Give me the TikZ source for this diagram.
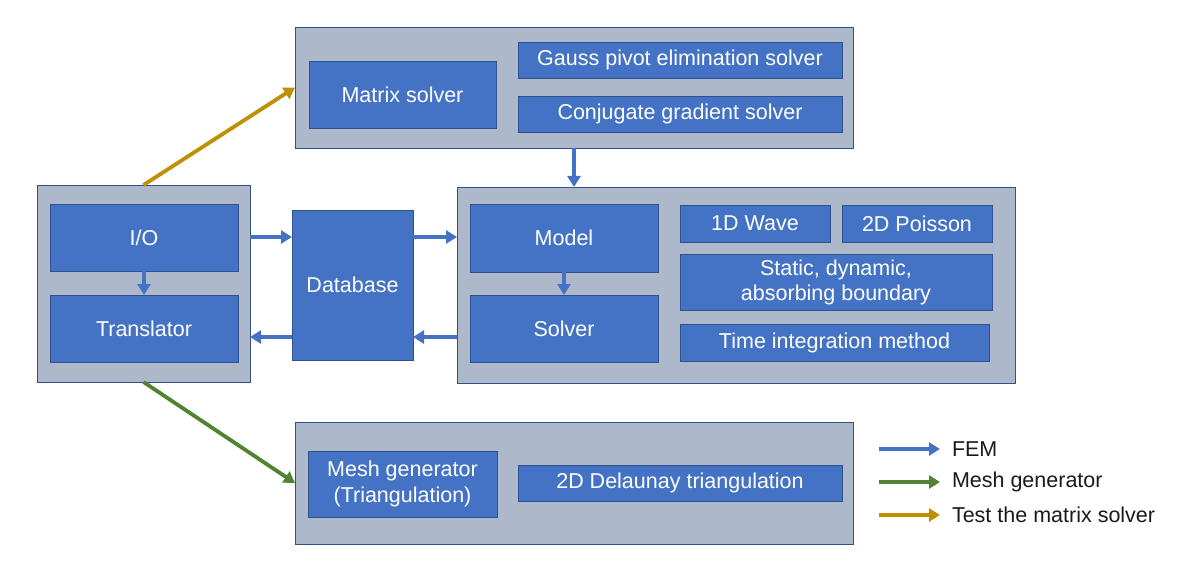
\documentclass[tikz,border=0pt]{standalone}
\usepackage{fontspec}
\setmainfont{Liberation Sans}
\usetikzlibrary{arrows.meta,calc}
\definecolor{boxblue}{HTML}{4472C4}
\definecolor{boxedge}{HTML}{2F528F}
\definecolor{contgrey}{HTML}{ADB9CA}
\definecolor{arrblue}{HTML}{4472C4}
\definecolor{arrgreen}{HTML}{548235}
\definecolor{arrgold}{HTML}{BF9000}
\definecolor{legtext}{HTML}{1A1A1A}
\begin{document}
\begin{tikzpicture}[x=1pt,y=-1pt,
  every node/.style={inner sep=0pt,outer sep=0pt,font=\fontsize{21.5}{25}\selectfont},
  cont/.style={draw=boxedge,line width=0.9pt,fill=contgrey},
  bx/.style={draw=boxedge,line width=0.9pt,fill=boxblue,text=white,align=center},
  arr/.style={line width=3.8pt,-{Triangle[length=11pt,width=13pt]}},
  legtxt/.style={anchor=west,text=legtext}]
\useasboundingbox (0,0) rectangle (1191,572);
% containers
\node[cont,minimum width=558pt,minimum height=121pt] (top) at (574,87.5) {};
\node[cont,minimum width=213pt,minimum height=197pt] (left) at (143.5,283.5) {};
\node[cont,minimum width=558pt,minimum height=196pt] (right) at (736,285) {};
\node[cont,minimum width=558pt,minimum height=122pt] (bottom) at (574,483) {};
% top boxes
\node[bx,minimum width=187pt,minimum height=67pt] (matrix) at (402.5,94.5) {Matrix solver};
\node[bx,minimum width=324pt,minimum height=36pt] (gauss) at (680,60) {Gauss pivot elimination solver};
\node[bx,minimum width=324pt,minimum height=36pt] (conj) at (680,114) {Conjugate gradient solver};
% left boxes
\node[bx,minimum width=188pt,minimum height=67pt] (io) at (144,237.5) {I/O};
\node[bx,minimum width=188pt,minimum height=67pt] (trans) at (144,328.5) {Translator};
% database
\node[bx,minimum width=121pt,minimum height=150pt] (db) at (352.5,285) {Database};
% right boxes
\node[bx,minimum width=188pt,minimum height=68pt] (model) at (564,238) {Model};
\node[bx,minimum width=188pt,minimum height=67pt] (solver) at (564,328.5) {Solver};
\node[bx,minimum width=150pt,minimum height=37pt] (wave) at (755,223.5) {1D Wave};
\node[bx,minimum width=150pt,minimum height=37pt] (poisson) at (917,223.5) {2D Poisson};
\node[bx,minimum width=312pt,minimum height=56pt] (static) at (836,282) {Static, dynamic,\\absorbing boundary};
\node[bx,minimum width=309pt,minimum height=37pt] (time) at (834.5,342.5) {Time integration method};
% bottom boxes
\node[bx,minimum width=189pt,minimum height=66pt,font=\fontsize{21.5}{26}\selectfont] (mesh) at (402.5,484) {Mesh generator\\(Triangulation)};
\node[bx,minimum width=324pt,minimum height=36pt] (delaunay) at (680,483) {2D Delaunay triangulation};
% helper levels
\coordinate (upper) at (0,237);
\coordinate (lower) at (0,337);
% connectors
\draw[arr,arrgold] (left.north) -- (top.west);
\draw[arr,arrgreen] (left.south) -- (bottom.west);
\draw[arr,arrblue] (top.south) -- (top.south |- right.north);
\draw[arr,arrblue] (io.south) -- (trans.north);
\draw[arr,arrblue] (model.south) -- (solver.north);
\draw[arr,arrblue] (left.east |- upper) -- (db.west |- upper);
\draw[arr,arrblue] (db.east |- upper) -- (right.west |- upper);
\draw[arr,arrblue] (right.west |- lower) -- (db.east |- lower);
\draw[arr,arrblue] (db.west |- lower) -- (left.east |- lower);
% legend
\coordinate (l1a) at (879,449); \coordinate (l1b) at (940,449);
\coordinate (l2a) at (879,482); \coordinate (l2b) at (940,482);
\coordinate (l3a) at (879,515); \coordinate (l3b) at (940,515);
\draw[arr,arrblue] (l1a) -- (l1b);
\draw[arr,arrgreen] (l2a) -- (l2b);
\draw[arr,arrgold] (l3a) -- (l3b);
\node[legtxt] (t1) at (952,449) {FEM};
\node[legtxt] (t2) at (952,482) {Mesh generator};
\node[legtxt] (t3) at (952,515) {Test the matrix solver};
\end{tikzpicture}
\end{document}
